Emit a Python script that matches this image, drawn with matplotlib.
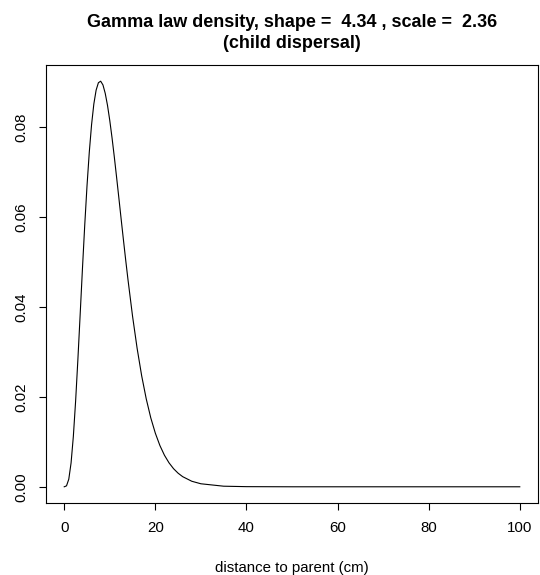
import matplotlib
matplotlib.use("Agg")
import matplotlib.pyplot as plt

# gamma density (shape 4.34, scale 2.36)
distance = [0, 0.5, 1, 1.5, 2, 2.5, 3, 3.5, 4, 4.5, 5, 5.5, 6, 6.5, 7, 7.5,
            8, 8.5, 9, 9.5, 10, 10.5, 11, 11.5, 12, 12.5, 13, 13.5, 14, 15,
            16, 17, 18, 19, 20, 21, 22, 23, 24, 25, 26, 28, 30, 35, 40,
            50, 60, 70, 80, 90, 100]
density = [0.0, 0.00021, 0.00169, 0.00529, 0.01118, 0.01905, 0.02835,
           0.03836, 0.04849, 0.05814, 0.06689, 0.07438, 0.08049, 0.08510,
           0.08817, 0.08982, 0.09016, 0.08933, 0.08746, 0.08478, 0.08141,
           0.07753, 0.07327, 0.06875, 0.06414, 0.05945, 0.05485, 0.05033,
           0.04600, 0.03790, 0.03078, 0.02467, 0.01955, 0.01532, 0.01191,
           0.00917, 0.00701, 0.00533, 0.00402, 0.00302, 0.00225, 0.00123,
           0.00067, 0.00013, 0.00003, 0.0, 0.0, 0.0, 0.0, 0.0, 0.0]
x_ticks = [0, 20, 40, 60, 80, 100]
y_ticks = [0.00, 0.02, 0.04, 0.06, 0.08]
title = "Gamma law density, shape =  4.34 , scale =  2.36\n(child dispersal)"
x_label = "distance to parent (cm)"

plt.rcParams['font.family'] = ['Liberation Sans', 'DejaVu Sans']

fig = plt.figure(figsize=(5.4, 5.75), dpi=100)
ax = fig.add_axes([0.0852, 0.1252, 0.9111, 0.7618])
ax.plot(distance, density, color='black', lw=0.8)

xmax = max(distance)
ymax = max(density)
ax.set_xlim(-0.04 * xmax, 1.04 * xmax)
ax.set_ylim(-0.04 * ymax, 1.04 * ymax)

ax.set_xticks(x_ticks)
ax.set_xticklabels([str(t) for t in x_ticks])
ax.set_yticks(y_ticks)
ax.set_yticklabels([f"{t:.2f}" for t in y_ticks], rotation=90, va='center')
ax.tick_params(direction='out', length=5, width=0.8, labelsize=10.8, pad=8)

for s in ax.spines.values():
    s.set_linewidth(0.8)

ax.set_xlabel(x_label, fontsize=10.8, labelpad=19)
ax.set_title(title, fontsize=13, fontweight='bold', pad=12, linespacing=1.3)

fig.savefig("out.png", dpi=100)
